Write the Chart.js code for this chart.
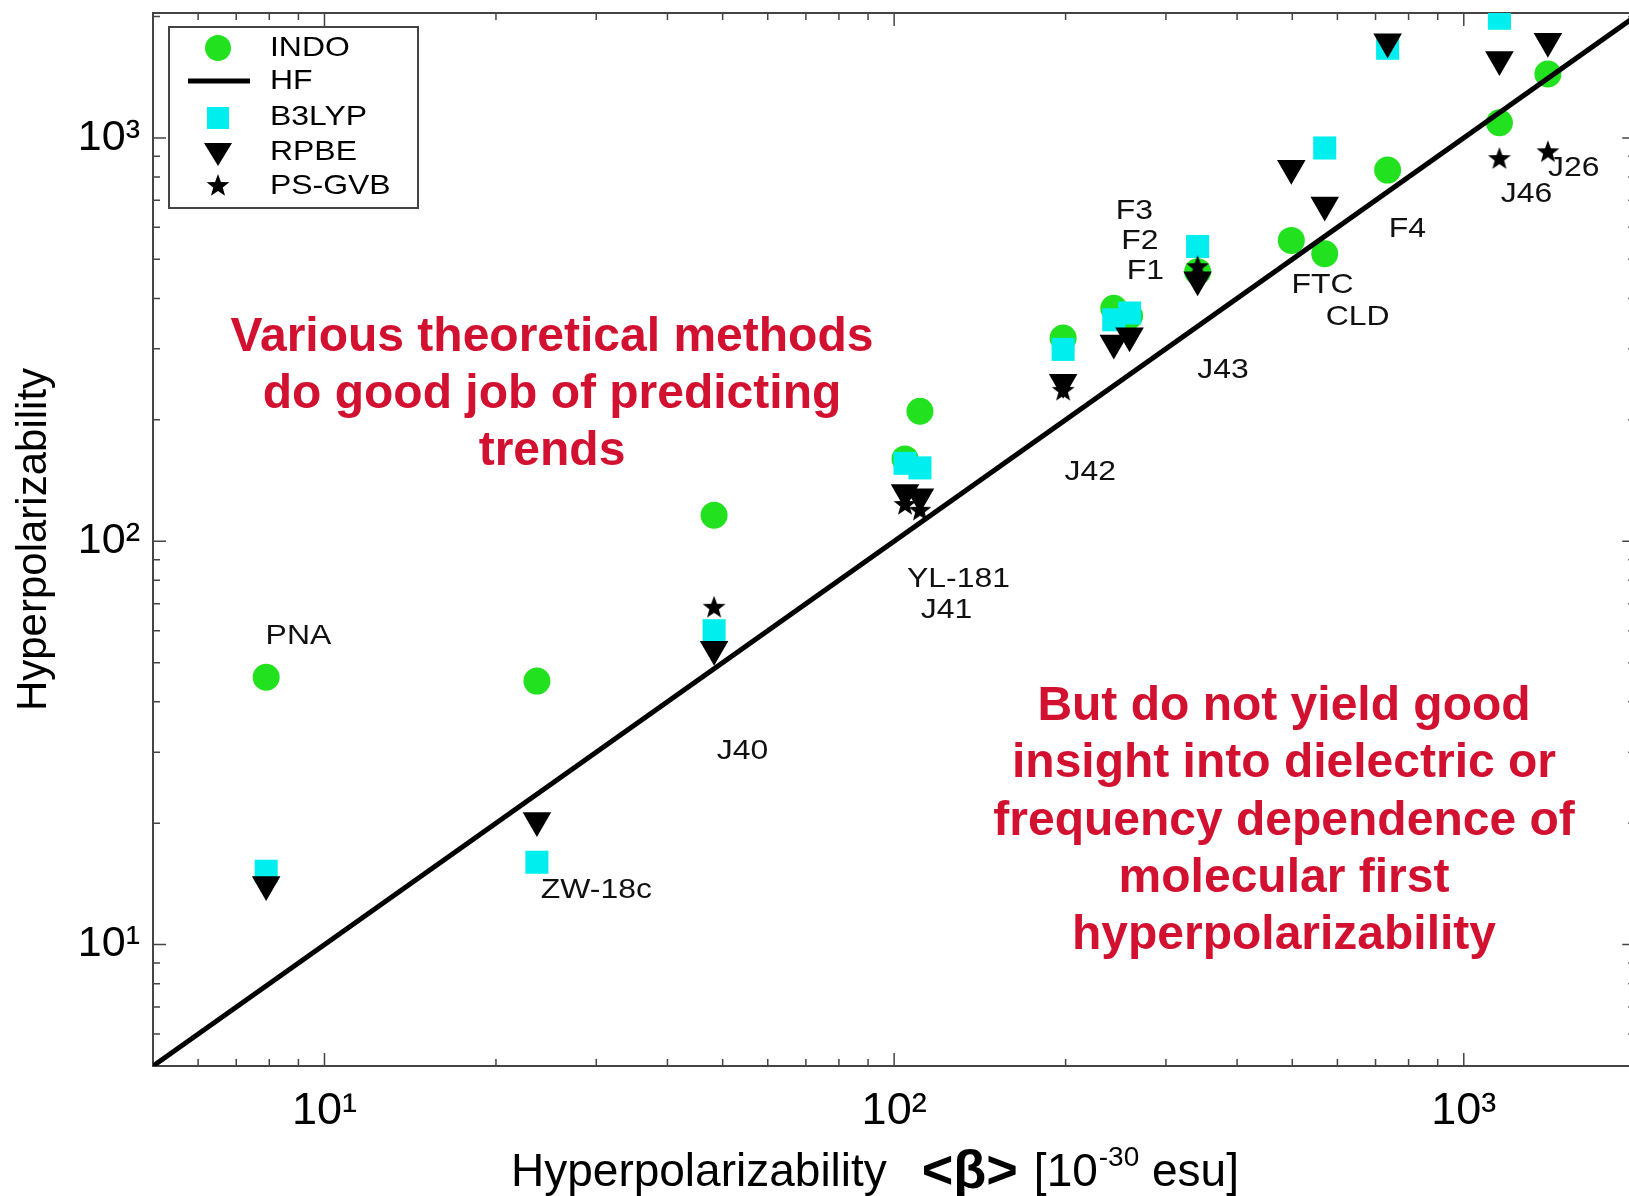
<!DOCTYPE html>
<html>
<head>
<meta charset="utf-8">
<title>Hyperpolarizability</title>
<script src="https://cdn.jsdelivr.net/npm/chart.js@4/dist/chart.umd.min.js"></script>
<style>
  html, body { margin: 0; padding: 0; background: #fff; }
  #chart { display: block; }
</style>
</head>
<body>
<canvas id="chart" width="1629" height="1196" style="width:1629px;height:1196px"></canvas>
<script>
// *** data for display ***
// experimental <beta> (x) for each molecule column, and the computed values per method
const MOLECULES = ['PNA', 'ZW-18c', 'J40', 'YL-181', 'J41', 'J42', 'J43', 'F2', 'F1', 'FTC', 'CLD', 'F4', 'J46', 'J26'];
const BETA_EXP = [7.9, 23.6, 48.3, 104.5, 111, 198, 243, 259, 341, 498, 570, 735, 1155, 1405];
const INDO     = [46, 45, 116, 160, 210, 319, 378, 362, 466, 557, 516, 832, 1090, 1440];
const B3LYP    = [15.2, 16.0, 60, 156, 152, 299, 354, 368, 538, null, 944, 1668, 1980, null];
const RPBE     = [14.1, 20.3, 54, 132, 129, 248, 310, 323, 445, 841, 682, 1730, 1565, 1736];
const PSGVB    = [null, null, 68.4, 123, 119, 236, null, null, 478, null, null, null, 886, 921];
// HF reference line (HF = experiment)
const HF_X = [5, 2000];
const HF_Y = [5, 2000];

// axis ticks
const TICK_VALUES = [10, 100, 1000];
const TICK_LABELS = ['10\u00B9', '10\u00B2', '10\u00B3'];

// molecule names written next to the points [text, beta, value]
const NAME_LABELS = [
    ['PNA', 9.0, 58.2], ['ZW-18c', 30.0, 13.6], ['J40', 54.2, 30.1],
    ['YL-181', 129.7, 80.7], ['J41', 123.6, 67.6], ['J42', 221, 148],
    ['J43', 378, 265], ['F3', 264, 656], ['F2', 270, 553], ['F1', 276, 466],
    ['FTC', 565, 430], ['CLD', 651, 360], ['F4', 796, 592],
    ['J46', 1289, 723], ['J26', 1560, 839]
];
const NOTE_LEFT = ['Various theoretical methods', 'do good job of predicting', 'trends'];
const NOTE_RIGHT = ['But do not yield good', 'insight into dielectric or', 'frequency dependence of',
    'molecular first', 'hyperpolarizability'];

const FONT = '"Liberation Sans", Arial, sans-serif';
const GREEN = '#22e11f';
const CYAN = '#00eeee';
const RED = '#d2102f';
const AXIS = '#444';

function points(ys) {
    let out = [];
    BETA_EXP.forEach(function (x, i) {
        if (ys[i] != null) out.push({ x: x, y: ys[i] });
    });
    return out;
}

// filled five point star used for PS-GVB
function makeStar(outer, inner) {
    let size = Math.ceil(outer * 2 + 2);
    let c = document.createElement('canvas');
    c.width = size; c.height = size;
    let g = c.getContext('2d');
    g.fillStyle = '#000';
    g.beginPath();
    for (let i = 0; i < 10; i++) {
        let r = i % 2 ? inner : outer;
        let a = -Math.PI / 2 + i * Math.PI / 5;
        g.lineTo(size / 2 + r * Math.cos(a), size / 2 + r * Math.sin(a));
    }
    g.closePath();
    g.fill();
    return c;
}
const STAR = makeStar(12, 5);

// no extra room for the end labels: the frame fills the picture
function noPadding(s) {
    s.paddingTop = 0; s.paddingBottom = 0; s.paddingLeft = 0; s.paddingRight = 0;
}

// *** frame with inward ticks on four sides ***
const framePlugin = {
    id: 'frame',
    beforeDatasetsDraw(chart) {
        const { ctx, chartArea: a, scales } = chart;
        const xs = scales.x, ys = scales.y;
        const right = xs.getPixelForValue(2000); // right border sits just off the picture
        ctx.save();
        ctx.strokeStyle = AXIS;
        ctx.lineWidth = 2;
        ctx.strokeRect(a.left, a.top, right - a.left, a.bottom - a.top);
        ctx.lineWidth = 1.5;
        ctx.beginPath();
        for (let k = 0; k < 4; k++) {
            for (let m = 1; m < 10; m++) {
                let v = m * Math.pow(10, k);
                let len = m === 1 ? 13 : 7;
                if (v > 5 && v < 2000) {
                    let px = xs.getPixelForValue(v);
                    ctx.moveTo(px, a.bottom); ctx.lineTo(px, a.bottom - len);
                    ctx.moveTo(px, a.top); ctx.lineTo(px, a.top + len);
                }
                if (v > 5 && v < ys.max) {
                    let py = ys.getPixelForValue(v);
                    ctx.moveTo(a.left, py); ctx.lineTo(a.left + len, py);
                    ctx.moveTo(right, py); ctx.lineTo(right - len, py);
                }
            }
        }
        ctx.stroke();
        ctx.restore();
    }
};

// *** names and the two red notes ***
const notesPlugin = {
    id: 'notes',
    afterDatasetsDraw(chart) {
        const { ctx, scales } = chart;
        ctx.save();
        ctx.fillStyle = '#111';
        ctx.font = '28px ' + FONT;
        ctx.textAlign = 'center';
        ctx.textBaseline = 'middle';
        NAME_LABELS.forEach(function (l) {
            ctx.save();
            ctx.translate(scales.x.getPixelForValue(l[1]), scales.y.getPixelForValue(l[2]));
            ctx.scale(1.14, 1);
            ctx.fillText(l[0], 0, 0);
            ctx.restore();
        });
        ctx.fillStyle = RED;
        ctx.font = 'bold 48px ' + FONT;
        ctx.textBaseline = 'alphabetic';
        NOTE_LEFT.forEach(function (t, i) { ctx.fillText(t, 552, 351 + i * 57); });
        NOTE_RIGHT.forEach(function (t, i) { ctx.fillText(t, 1284, 720 + i * 57.3); });
        ctx.restore();
    }
};

// *** legend box and x axis title ***
const legendPlugin = {
    id: 'boxLegend',
    afterDraw(chart) {
        const ctx = chart.ctx;
        ctx.save();
        ctx.fillStyle = '#fff';
        ctx.fillRect(169, 27, 249, 181);
        ctx.strokeStyle = AXIS;
        ctx.lineWidth = 2;
        ctx.strokeRect(169, 27, 249, 181);

        const sx = 218;
        // INDO
        ctx.fillStyle = GREEN;
        ctx.beginPath(); ctx.arc(sx, 48, 13, 0, Math.PI * 2); ctx.fill();
        // HF
        ctx.strokeStyle = '#000'; ctx.lineWidth = 5;
        ctx.beginPath(); ctx.moveTo(188, 81); ctx.lineTo(250, 81); ctx.stroke();
        // B3LYP
        ctx.fillStyle = CYAN;
        ctx.fillRect(sx - 11, 107, 22, 22);
        // RPBE
        ctx.fillStyle = '#000';
        ctx.beginPath(); ctx.moveTo(sx - 14, 143); ctx.lineTo(sx + 14, 143); ctx.lineTo(sx, 166); ctx.closePath(); ctx.fill();
        // PS-GVB
        ctx.drawImage(STAR, sx - STAR.width / 2, 186 - STAR.height / 2);

        ctx.fillStyle = '#000';
        ctx.font = '28px ' + FONT;
        ctx.textBaseline = 'middle';
        ctx.textAlign = 'left';
        ['INDO', 'HF', 'B3LYP', 'RPBE', 'PS-GVB'].forEach(function (t, i) {
            ctx.save();
            ctx.translate(270, [48, 81, 117, 152, 186][i]);
            ctx.scale(1.14, 1);
            ctx.fillText(t, 0, 0);
            ctx.restore();
        });

        // x axis title with bold <beta> and superscript
        let x = 511, base = 1186;
        ctx.textBaseline = 'alphabetic';
        ctx.font = '46px ' + FONT;
        ctx.fillText('Hyperpolarizability', x, base);
        x += ctx.measureText('Hyperpolarizability').width + 35;
        ctx.font = 'bold 54px ' + FONT;
        ctx.fillText('<\u03B2>', x, base + 2);
        x += ctx.measureText('<\u03B2>').width + 16;
        ctx.font = '46px ' + FONT;
        ctx.fillText('[10', x, base);
        x += ctx.measureText('[10').width + 1;
        ctx.font = '28px ' + FONT;
        ctx.fillText('-30', x, base - 20);
        x += ctx.measureText('-30').width;
        ctx.font = '46px ' + FONT;
        ctx.fillText(' esu]', x, base);
        ctx.restore();
    }
};

// *** display chart ***
const ctx = document.getElementById('chart').getContext('2d');
const chart = new Chart(ctx, {
    type: 'scatter',
    data: {
        datasets: [
            {
                label: 'INDO', data: points(INDO), order: 4,
                pointStyle: 'circle', pointRadius: 13.5, pointBorderWidth: 0,
                backgroundColor: GREEN, borderColor: GREEN
            },
            {
                label: 'HF', type: 'line', order: 0,
                data: HF_X.map(function (x, i) { return { x: x, y: HF_Y[i] }; }),
                showLine: true, borderColor: '#000', borderWidth: 5, pointRadius: 0, fill: false
            },
            {
                label: 'B3LYP', data: points(B3LYP), order: 3,
                pointStyle: 'rect', pointRadius: 16.3, pointBorderWidth: 0,
                backgroundColor: CYAN, borderColor: CYAN
            },
            {
                label: 'RPBE', data: points(RPBE), order: 2,
                pointStyle: 'triangle', pointRotation: 180, pointRadius: 16.5, pointBorderWidth: 0,
                backgroundColor: '#000', borderColor: '#000'
            },
            {
                label: 'PS-GVB', data: points(PSGVB), order: 1,
                pointStyle: STAR, pointRadius: 12, pointBorderWidth: 0,
                backgroundColor: '#000', borderColor: '#000'
            }
        ]
    },
    options: {
        responsive: false,
        animation: false,
        devicePixelRatio: 1,
        events: [],
        layout: { autoPadding: false, padding: { top: 13, right: 0, bottom: 0, left: 0 } },
        plugins: { legend: { display: false }, tooltip: { enabled: false } },
        scales: {
            x: {
                type: 'logarithmic', position: 'bottom', min: 5, max: 1950, bounds: 'data',
                grid: { display: false, drawTicks: false },
                border: { display: false },
                afterBuildTicks: function (s) { s.ticks = TICK_VALUES.map(function (v) { return { value: v }; }); },
                afterFit: function (s) { s.height = 130; noPadding(s); },
                ticks: {
                    color: '#000', padding: 19, maxRotation: 0, autoSkip: false,
                    font: { family: FONT, size: 45 },
                    callback: function (v) { return TICK_LABELS[TICK_VALUES.indexOf(v)] || ''; }
                }
            },
            y: {
                type: 'logarithmic', position: 'left', min: 5, max: 2040, bounds: 'data',
                grid: { display: false, drawTicks: false },
                border: { display: false },
                afterBuildTicks: function (s) { s.ticks = TICK_VALUES.map(function (v) { return { value: v }; }); },
                afterFit: function (s) { s.width = 153; noPadding(s); },
                title: {
                    display: true, text: 'Hyperpolarizability', color: '#000',
                    font: { family: FONT, size: 42 }, padding: { top: 9, bottom: 0 }
                },
                ticks: {
                    color: '#000', padding: 13, autoSkip: false,
                    font: { family: FONT, size: 43 },
                    callback: function (v) { return TICK_LABELS[TICK_VALUES.indexOf(v)] || ''; }
                }
            }
        }
    },
    plugins: [framePlugin, notesPlugin, legendPlugin]
});
</script>
</body>
</html>
